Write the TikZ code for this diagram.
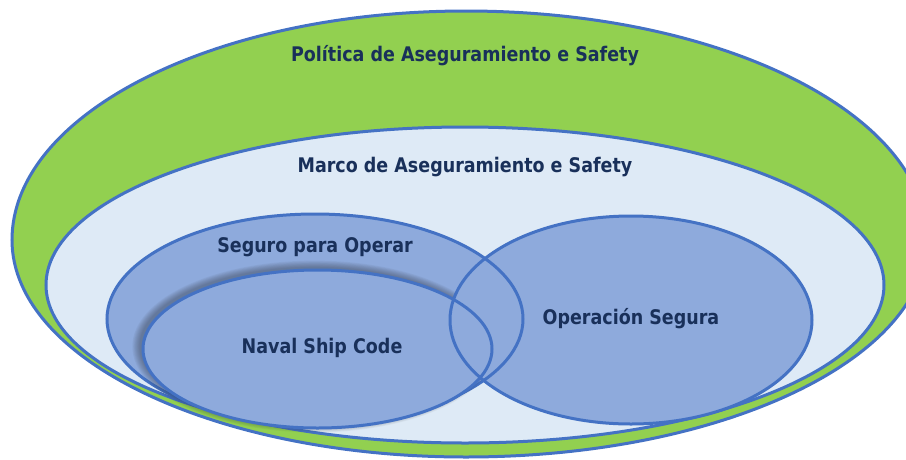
\documentclass[tikz,border=0pt]{standalone}
\usepackage{fontspec}
\setmainfont{DejaVu Sans}
\usepackage{graphicx}
\definecolor{pgreen}{HTML}{92D050}
\definecolor{lblue}{HTML}{DEEAF6}
\definecolor{mblue}{HTML}{8EAADC}
\definecolor{oline}{HTML}{4472C4}
\definecolor{tnavy}{HTML}{19305A}
\definecolor{shd}{HTML}{2A2F3A}
\tikzset{
  outl/.style={draw=oline,line width=3pt},
  lbl/.style={text=tnavy,font=\fontsize{17.5}{20}\selectfont\bfseries,inner sep=0pt},
}
\newcommand{\tall}[1]{\scalebox{1}[1.15]{#1}}
\begin{document}
\begin{tikzpicture}[x=1pt,y=1pt]
\useasboundingbox (0,0) rectangle (906,-459);
\clip (0,0) rectangle (906,-459);
% outer policy shape
\path[fill=pgreen,outl] (12,-240)
  arc[start angle=180,end angle=90,x radius=454,y radius=229]
  arc[start angle=90,end angle=0,x radius=461,y radius=229]
  arc[start angle=0,end angle=-90,x radius=461,y radius=217]
  arc[start angle=-90,end angle=-180,x radius=454,y radius=217] -- cycle;
% framework
\path[fill=lblue,outl] (465,-285) ellipse[x radius=419,y radius=158];
% seguro para operar
\path[fill=mblue,outl] (315,-319) ellipse[x radius=208,y radius=105];
% shadow of naval ship code
\foreach \k in {0,...,8}{
  \fill[shd,opacity=0.05] (314.5,-346.5) ellipse[x radius={175+0.9*\k},y radius={79.5+0.8*\k}];
}
\fill[mblue] (317.5,-349) ellipse[x radius=174.5,y radius=79];
% operacion segura
\fill[mblue] (631,-320) ellipse[x radius=181,y radius=104];
\begin{scope}
  \clip (631,-320) ellipse[x radius=181,y radius=104];
  \draw[outl] (315,-319) ellipse[x radius=208,y radius=105];
\end{scope}
\draw[outl] (317.5,-349) ellipse[x radius=174.5,y radius=79];
\draw[outl] (631,-320) ellipse[x radius=181,y radius=104];
% labels
\node[lbl] (pol) at (465,-56) {\tall{Política de Aseguramiento e Safety}};
\node[lbl] (mar) at (465,-167) {\tall{Marco de Aseguramiento e Safety}};
\node[lbl] (seg) at (315,-247) {\tall{Seguro para Operar}};
\node[lbl] (nsc) at (322,-348) {\tall{Naval Ship Code}};
\node[lbl] (ope) at (631,-319) {\tall{Operación Segura}};
\end{tikzpicture}
\end{document}
